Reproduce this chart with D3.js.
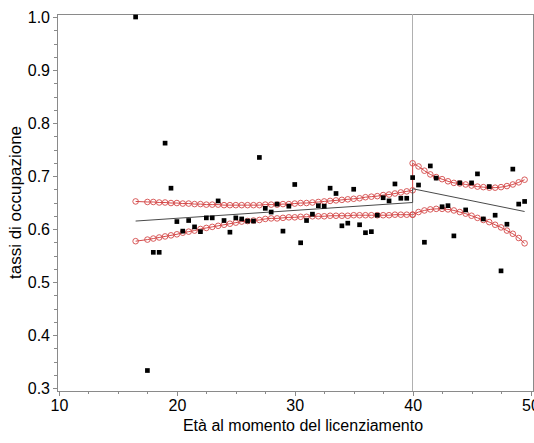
<!DOCTYPE html>
<html>
<head>
<meta charset="utf-8">
<script src="https://cdn.jsdelivr.net/npm/d3@7"></script>
<style>
  html, body { margin: 0; padding: 0; background: #fff; }
  svg { display: block; font-family: "Liberation Sans", Arial, sans-serif; }
</style>
</head>
<body>
<svg id="chart" width="534" height="443"></svg>
<script>
// Observed employment rates by age at dismissal (half-year steps)
const ages = [16.5, 17.5, 18, 18.5, 19, 19.5, 20, 20.5, 21, 21.5, 22, 22.5, 23, 23.5, 24, 24.5,
  25, 25.5, 26, 26.5, 27, 27.5, 28, 28.5, 29, 29.5, 30, 30.5, 31, 31.5, 32, 32.5, 33, 33.5,
  34, 34.5, 35, 35.5, 36, 36.5, 37, 37.5, 38, 38.5, 39, 39.5, 40, 40.5, 41, 41.5, 42, 42.5,
  43, 43.5, 44, 44.5, 45, 45.5, 46, 46.5, 47, 47.5, 48, 48.5, 49, 49.5];
const rates = [1.000, 0.333, 0.556, 0.556, 0.762, 0.677, 0.614, 0.596, 0.616, 0.604, 0.595, 0.621,
  0.621, 0.653, 0.616, 0.594, 0.621, 0.619, 0.615, 0.615, 0.735, 0.639, 0.632, 0.647, 0.596,
  0.643, 0.684, 0.574, 0.616, 0.628, 0.644, 0.643, 0.677, 0.667, 0.606, 0.611, 0.675, 0.608,
  0.593, 0.595, 0.626, 0.659, 0.653, 0.685, 0.658, 0.658, 0.697, 0.683, 0.575, 0.719, 0.696,
  0.642, 0.644, 0.587, 0.687, 0.636, 0.687, 0.704, 0.619, 0.680, 0.626, 0.521, 0.609, 0.713,
  0.647, 0.652];

// Confidence band, left of the cutoff (16.5 .. 40)
const agesLeft = [16.5, 17.5, 18, 18.5, 19, 19.5, 20, 20.5, 21, 21.5, 22, 22.5, 23, 23.5, 24, 24.5,
  25, 25.5, 26, 26.5, 27, 27.5, 28, 28.5, 29, 29.5, 30, 30.5, 31, 31.5, 32, 32.5, 33, 33.5,
  34, 34.5, 35, 35.5, 36, 36.5, 37, 37.5, 38, 38.5, 39, 39.5, 40];
const upperLeft = [0.652, 0.651, 0.651, 0.650, 0.650, 0.649, 0.649, 0.648, 0.648, 0.647, 0.647,
  0.646, 0.646, 0.646, 0.645, 0.645, 0.645, 0.645, 0.645, 0.645, 0.645, 0.646, 0.646, 0.646,
  0.647, 0.647, 0.648, 0.649, 0.649, 0.650, 0.651, 0.652, 0.653, 0.654, 0.655, 0.656, 0.657,
  0.658, 0.660, 0.661, 0.662, 0.664, 0.665, 0.667, 0.669, 0.671, 0.673];
const lowerLeft = [0.577, 0.580, 0.582, 0.584, 0.586, 0.588, 0.590, 0.593, 0.595, 0.597, 0.600,
  0.602, 0.604, 0.606, 0.608, 0.610, 0.612, 0.614, 0.615, 0.616, 0.617, 0.619, 0.620, 0.620,
  0.621, 0.622, 0.622, 0.623, 0.623, 0.624, 0.624, 0.624, 0.625, 0.625, 0.625, 0.625, 0.626,
  0.626, 0.626, 0.626, 0.626, 0.626, 0.626, 0.627, 0.627, 0.627, 0.627];

// Confidence band, right of the cutoff (40 .. 49.5)
const agesRight = [40, 40.5, 41, 41.5, 42, 42.5, 43, 43.5, 44, 44.5, 45, 45.5, 46, 46.5, 47, 47.5,
  48, 48.5, 49, 49.5];
const upperRight = [0.724, 0.718, 0.710, 0.703, 0.698, 0.694, 0.690, 0.687, 0.686, 0.684, 0.682,
  0.680, 0.679, 0.678, 0.678, 0.679, 0.681, 0.684, 0.688, 0.693];
const lowerRight = [0.627, 0.632, 0.635, 0.637, 0.638, 0.638, 0.637, 0.635, 0.632, 0.629, 0.625,
  0.621, 0.617, 0.613, 0.608, 0.603, 0.597, 0.591, 0.583, 0.573];

// Fitted regression line on each side of the cutoff
const fitAges = [16.5, 40, 40, 49.5];
const fitRates = [0.615, 0.650, 0.676, 0.633];

const cutoff = 40;
const xTicks = [10, 20, 30, 40, 50];
const yTicks = [0.3, 0.4, 0.5, 0.6, 0.7, 0.8, 0.9, 1.0];
const xTitle = "Età al momento del licenziamento";
const yTitle = "tassi di occupazione";

const svg = d3.select("#chart");
const frame = { left: 57, top: 14, right: 533, bottom: 391 };
const x = d3.scaleLinear().domain([10, 50]).range([59, 530.5]);
const y = d3.scaleLinear().domain([0.3, 1.0]).range([388, 17]);

const axisColor = "#8a8a8a";
const red = "#d44848";

// Frame
svg.append("rect")
  .attr("x", frame.left).attr("y", frame.top)
  .attr("width", frame.right - frame.left).attr("height", frame.bottom - frame.top)
  .attr("fill", "none").attr("stroke", axisColor).attr("stroke-width", 1)
  .attr("shape-rendering", "crispEdges");

// Cutoff reference line
svg.append("line")
  .attr("x1", x(cutoff)).attr("x2", x(cutoff))
  .attr("y1", frame.top).attr("y2", frame.bottom)
  .attr("stroke", "#b0b0b0").attr("stroke-width", 1)
  .attr("shape-rendering", "crispEdges");

// Axes
function styleAxis(g) {
  g.select(".domain").remove();
  g.selectAll(".tick line").attr("stroke", axisColor).attr("shape-rendering", "crispEdges");
  g.selectAll(".tick text").attr("fill", "#000").attr("font-size", 16)
    .attr("font-family", "'Liberation Sans', Arial, sans-serif");
}
const xMinor = d3.range(10, 50.01, 2.5).filter(v => v % 10 !== 0);
const yMinor = d3.range(0.3, 1.0001, 0.025).filter(v => Math.abs(v * 10 - Math.round(v * 10)) > 1e-6);

svg.append("g").attr("transform", `translate(0,${frame.bottom})`)
  .call(d3.axisBottom(x).tickValues(xMinor).tickSize(3).tickFormat(""))
  .call(styleAxis);
svg.append("g").attr("transform", `translate(0,${frame.bottom})`)
  .call(d3.axisBottom(x).tickValues(xTicks).tickSize(5).tickPadding(4).tickFormat(d3.format("d")))
  .call(styleAxis);
svg.append("g").attr("transform", `translate(${frame.left},0)`)
  .call(d3.axisLeft(y).tickValues(yMinor).tickSize(3).tickFormat(""))
  .call(styleAxis);
svg.append("g").attr("transform", `translate(${frame.left},0)`)
  .call(d3.axisLeft(y).tickValues(yTicks).tickSize(4).tickPadding(3).tickFormat(d3.format(".1f")))
  .call(styleAxis);

// Axis titles
svg.append("text")
  .attr("x", 303).attr("y", 431)
  .attr("text-anchor", "middle").attr("font-size", 16)
  .text(xTitle);
svg.append("text")
  .attr("transform", `translate(21,${(frame.top + frame.bottom) / 2}) rotate(-90)`)
  .attr("text-anchor", "middle").attr("font-size", 17)
  .text(yTitle);

// Confidence bands (lines + open circle markers)
const bandUpper = agesLeft.map((a, i) => [a, upperLeft[i]])
  .concat(agesRight.map((a, i) => [a, upperRight[i]]));
const bandLower = agesLeft.map((a, i) => [a, lowerLeft[i]])
  .concat(agesRight.map((a, i) => [a, lowerRight[i]]));
const line = d3.line().x(d => x(d[0])).y(d => y(d[1]));

[bandUpper, bandLower].forEach(band => {
  svg.append("path").datum(band)
    .attr("d", line).attr("fill", "none")
    .attr("stroke", red).attr("stroke-width", 1);
  svg.append("g").selectAll("circle").data(band).join("circle")
    .attr("cx", d => x(d[0])).attr("cy", d => y(d[1])).attr("r", 2.8)
    .attr("fill", "none").attr("stroke", red).attr("stroke-width", 0.9);
});

// Fitted line
svg.append("path")
  .datum(fitAges.map((a, i) => [a, fitRates[i]]))
  .attr("d", line).attr("fill", "none")
  .attr("stroke", "#4a4a4a").attr("stroke-width", 1);

// Observed points
const symbol = d3.symbol().type(d3.symbolSquare).size(22);
svg.append("g").selectAll("path").data(ages.map((a, i) => [a, rates[i]])).join("path")
  .attr("transform", d => `translate(${x(d[0])},${y(d[1])})`)
  .attr("d", symbol).attr("fill", "#000");
</script>
</body>
</html>
